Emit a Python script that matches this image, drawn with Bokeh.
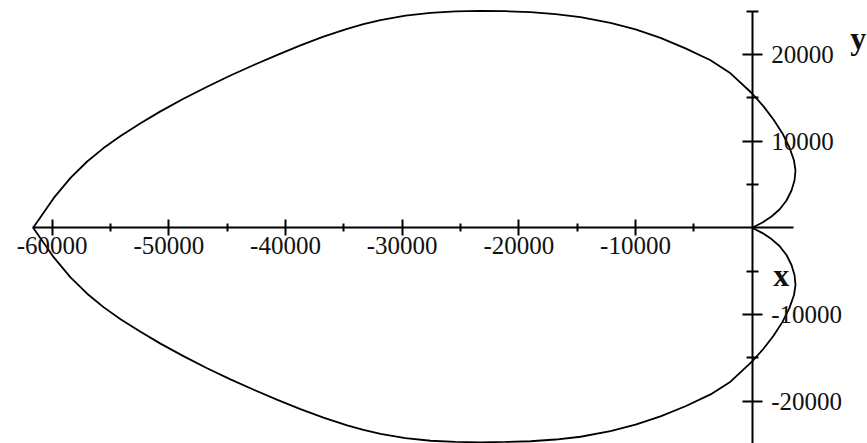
from bokeh.plotting import figure
from bokeh.models import Range1d, LinearAxis, FixedTicker, Label
from bokeh.embed import file_html
from bokeh.resources import INLINE

# Upper half of the curve: left cusp -> top -> y-axis crossing -> right loop -> origin
upper_x = [-61630, -59860, -58430, -57000, -55600, -54140, -52430, -50720, -48750,
           -46720, -44720, -42720, -40690, -38720, -36750, -34720, -33320, -31860,
           -29720, -27570, -25430, -23290, -21150, -19000, -16860, -14720, -12150,
           -10000, -7860, -5720, -3570, -1860, 0, 969, 1826, 2597, 3197, 3583,
           3711, 3626, 3369, 2940, 2340, 1654, 883, 0]
upper_y = [0, 3450, 5755, 7647, 9193, 10588, 12065, 13426, 14879,
           16275, 17566, 18777, 19954, 21038, 22042, 22941, 23483, 23956,
           24475, 24787, 24960, 25017, 24980, 24880, 24650, 24310, 23640,
           22880, 21910, 20700, 19320, 17820, 15490, 14000, 12490, 10880, 9260, 7760,
           6610, 5450, 4300, 3150, 2110, 1300, 610, 0]

# Lower half of the curve: left cusp -> bottom -> y-axis crossing -> right loop -> origin
lower_x = [-61630, -59860, -58430, -57000, -55600, -54140, -52430, -50720, -48750,
           -46720, -44720, -42720, -40690, -38720, -36750, -34720, -33320, -31860,
           -29720, -27570, -25430, -23290, -21150, -19000, -16860, -14720, -12150,
           -10000, -7860, -5720, -3570, -1860, 0, 969, 1826, 2597, 3197, 3583,
           3711, 3626, 3369, 2940, 2340, 1654, 883, 0]
lower_y = [0, -3420, -5720, -7600, -9150, -10540, -12000, -13360, -14800,
           -16200, -17480, -18680, -19850, -20920, -21900, -22780, -23300, -23760,
           -24270, -24560, -24700, -24740, -24700, -24620, -24420, -24100, -23450,
           -22700, -21750, -20580, -19220, -17750, -15400, -13950, -12450, -10850, -9240, -7750,
           -6600, -5440, -4290, -3140, -2100, -1300, -610, 0]

x_major = [-60000, -50000, -40000, -30000, -20000, -10000]
x_minor = [-55000, -45000, -35000, -25000, -15000, -5000]
x_labels = ["-60000", "-50000", "-40000", "-30000", "-20000", "-10000"]
y_major = [-20000, -10000, 10000, 20000]
y_minor = [-25000, -15000, -5000, 5000, 15000, 25000]
y_labels = ["-20000", "-10000", "10000", "20000"]

p = figure(width=867, height=443,
           x_range=Range1d(-64430, 9883), y_range=Range1d(-24879, 26217),
           x_axis_type=None, y_axis_type=None,
           output_backend="svg", toolbar_location=None,
           min_border=0, outline_line_color=None)
p.background_fill_color = "white"
p.border_fill_color = "white"

FONT = "Liberation Serif"

xaxis = LinearAxis(ticker=FixedTicker(ticks=x_major, minor_ticks=x_minor),
                   fixed_location=0, bounds=(-61700, 3540))
xaxis.major_label_overrides = {t: s for t, s in zip(x_major, x_labels)}
yaxis = LinearAxis(ticker=FixedTicker(ticks=y_major, minor_ticks=y_minor),
                   fixed_location=0, bounds=(-26000, 25000))
yaxis.major_label_overrides = {t: s for t, s in zip(y_major, y_labels)}
for ax in (xaxis, yaxis):
    ax.axis_line_color = "black"
    ax.axis_line_width = 2
    ax.major_tick_line_color = "black"
    ax.major_tick_line_width = 2
    ax.minor_tick_line_color = "black"
    ax.minor_tick_line_width = 2
    ax.major_label_text_font = FONT
    ax.major_label_text_font_size = "25px"
    ax.major_label_text_color = "#111111"
xaxis.major_tick_in = 8
xaxis.major_tick_out = 8
xaxis.minor_tick_in = 4
xaxis.minor_tick_out = 4
xaxis.major_label_standoff = 1
yaxis.major_tick_in = 10
yaxis.major_tick_out = 10
yaxis.minor_tick_in = 6
yaxis.minor_tick_out = 6
yaxis.major_label_standoff = 9
p.add_layout(xaxis, "below")
p.add_layout(yaxis, "right")

p.line(upper_x, upper_y, line_color="black", line_width=1.8)
p.line(lower_x, lower_y, line_color="black", line_width=1.8)

p.add_layout(Label(x=1800, y=-5500, text="x", text_font=FONT, text_font_size="32px",
                   text_font_style="bold", text_align="left", text_baseline="middle",
                   text_color="#111111"))
p.add_layout(Label(x=8400, y=21890, text="y", text_font=FONT, text_font_size="32px",
                   text_font_style="bold", text_align="left", text_baseline="alphabetic",
                   text_color="#111111"))

open("out.html", "w").write(file_html(p, INLINE))
